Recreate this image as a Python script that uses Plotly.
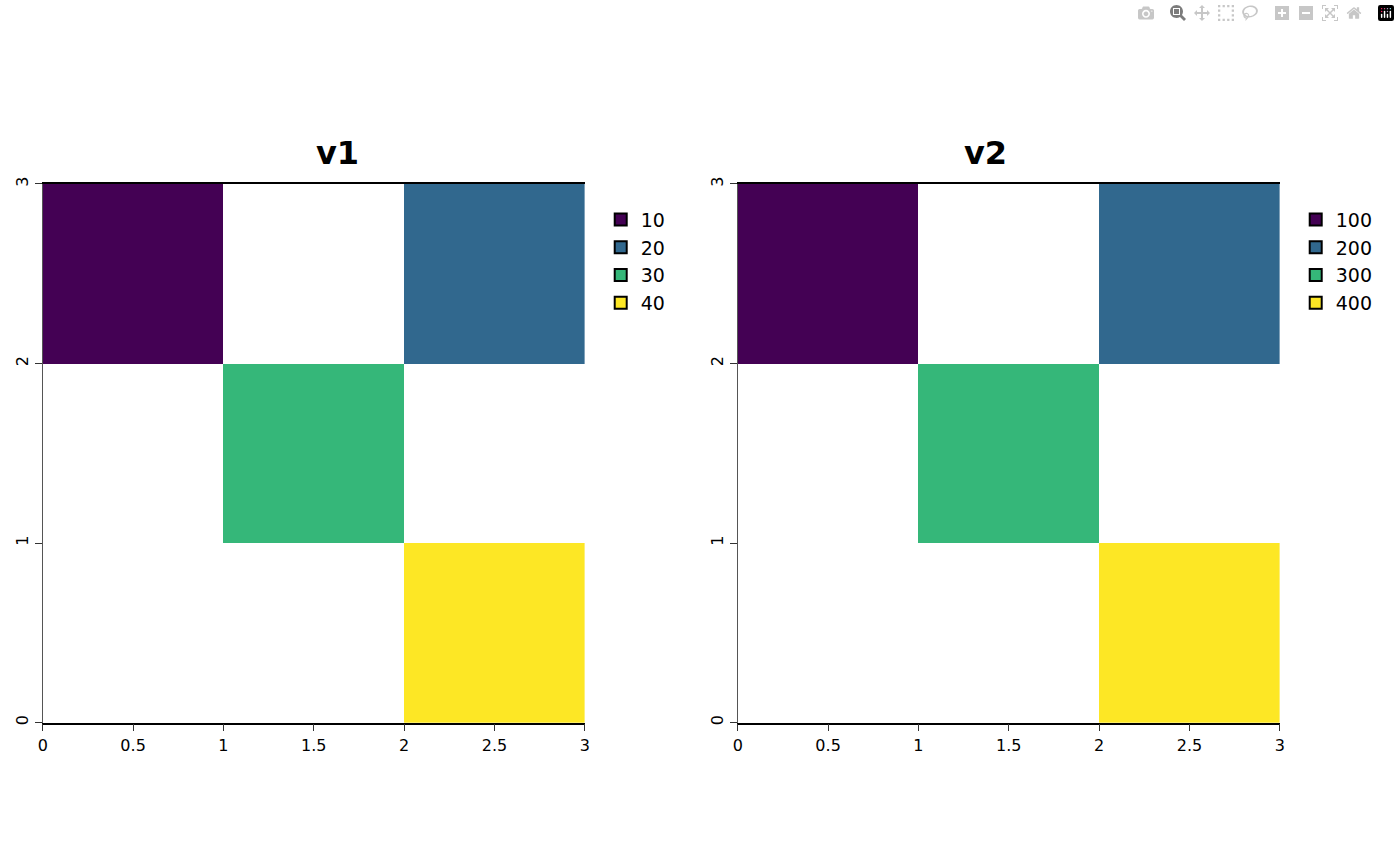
import plotly.graph_objects as go

x_centers = [0.5, 1.5, 2.5]
y_centers = [0.5, 1.5, 2.5]
v1 = [[None, None, 40], [None, 30, None], [10, None, 20]]
v2 = [[None, None, 400], [None, 300, None], [100, None, 200]]
v1_levels = [10, 20, 30, 40]
v2_levels = [100, 200, 300, 400]
colors = ["#440154", "#31688E", "#35B779", "#FDE725"]
x_ticks = [0, 0.5, 1, 1.5, 2, 2.5, 3]
x_ticklabels = ["0", "0.5", "1", "1.5", "2", "2.5", "3"]
y_ticks = [0, 1, 2, 3]

def cscale():
    cs = []
    for i, c in enumerate(colors):
        a = i / len(colors); b = (i + 1) / len(colors)
        cs += [[a, c], [b, c]]
    return cs

fig = go.Figure()
panels = [(v1, v1_levels, "x", "y", "legend"), (v2, v2_levels, "x2", "y2", "legend2")]
for z, lev, xa, ya, lg in panels:
    step = lev[1] - lev[0]
    fig.add_trace(go.Heatmap(x=x_centers, y=y_centers, z=z, colorscale=cscale(),
                             zmin=lev[0] - step / 2, zmax=lev[-1] + step / 2,
                             showscale=False, xaxis=xa, yaxis=ya, hoverongaps=False))
    for v, c in zip(lev, colors):
        fig.add_trace(go.Scatter(x=[None], y=[None], mode="markers", name=str(v),
                                 marker=dict(symbol="square", size=20, color=c,
                                             line=dict(color="black", width=1.2)),
                                 xaxis=xa, yaxis=ya, legend=lg))

ax = dict(range=[0, 3], tickvals=x_ticks, ticktext=x_ticklabels, ticks="outside",
          ticklen=7, tickcolor="#333", showgrid=False, zeroline=False,
          showline=True, linecolor="black", linewidth=1.5, mirror=True,
          tickfont=dict(size=16, color="black"))
ay = dict(range=[0, 3], tickvals=y_ticks, ticks="outside", ticklen=7, tickcolor="#333",
          tickangle=-90, showgrid=False, zeroline=False, showline=True,
          linecolor="#555", linewidth=0.8, tickfont=dict(size=16, color="black"))
ydom = [142 / 866, 687 / 866]
leg = dict(font=dict(size=19, family="DejaVu Sans", color="black"), bgcolor="rgba(0,0,0,0)",
           yanchor="top", y=(866 - 196) / 866, tracegroupgap=0, itemsizing="constant")
fig.update_layout(
    width=1400, height=866, plot_bgcolor="white", paper_bgcolor="white",
    margin=dict(l=0, r=0, t=0, b=0), font=dict(family="DejaVu Sans"),
    xaxis=dict(ax, domain=[38 / 1400, 584 / 1400], anchor="y"),
    yaxis=dict(ay, domain=ydom, anchor="x"),
    xaxis2=dict(ax, domain=[738 / 1400, 1284 / 1400], anchor="y2"),
    yaxis2=dict(ay, domain=ydom, anchor="x2"),
    legend=dict(leg, x=600 / 1400, xanchor="left"),
    legend2=dict(leg, x=1300 / 1400, xanchor="left"),
    annotations=[
        dict(text="<b>v1</b>", x=311 / 1400, y=(866 - 148) / 866, xref="paper", yref="paper",
             yanchor="middle", showarrow=False, font=dict(size=32, color="black")),
        dict(text="<b>v2</b>", x=1011 / 1400, y=(866 - 148) / 866, xref="paper", yref="paper",
             yanchor="middle", showarrow=False, font=dict(size=32, color="black")),
    ],
)
fig.write_html("out.html",
               post_script="document.body.style.margin='0';document.body.style.overflow='hidden';")
